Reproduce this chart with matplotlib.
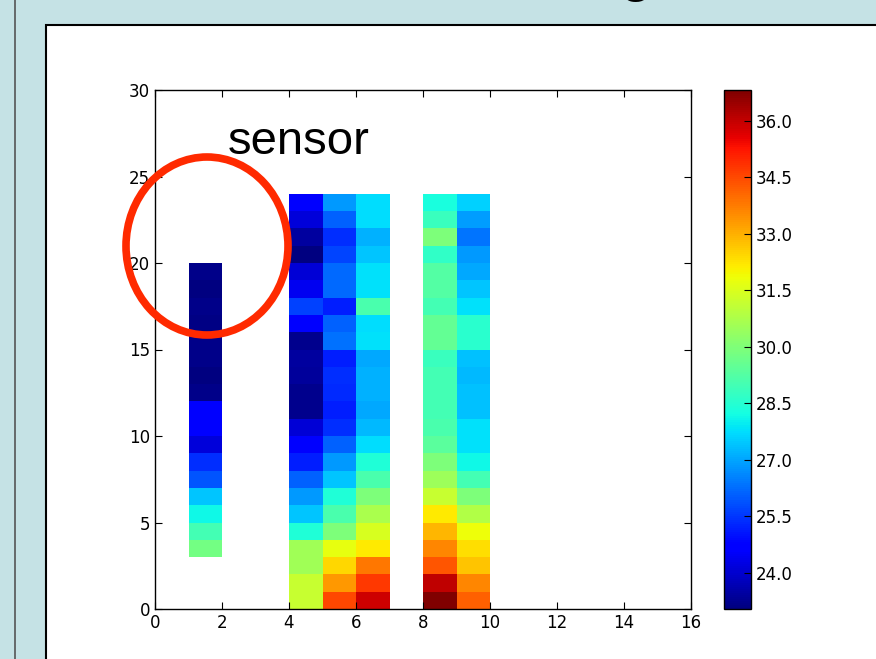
import numpy as np
import matplotlib
matplotlib.use('Agg')
import matplotlib.pyplot as plt
from matplotlib.patches import Rectangle, Ellipse

# temperature readings per sensor column, listed from row 0 upwards
col1_rows = list(range(3, 20))
col1 = [29.79, 28.97, 28.14, 27.45, 25.93, 25.38, 24.14, 24.56, 24.56,
        23.18, 23.04, 23.18, 23.18, 23.11, 23.18, 23.04, 23.18]

full_rows = list(range(0, 24))
col4 = [31.17, 31.17, 30.55, 30.55, 28.41, 27.45, 26.83, 26.07, 25.18, 24.56,
        24.07, 23.25, 23.25, 23.38, 23.45, 23.25, 24.56, 25.66, 24.42, 24.07,
        23.04, 23.45, 24.14, 24.56]
col5 = [34.53, 33.35, 32.41, 31.72, 29.93, 29.10, 28.41, 27.45, 26.83, 26.07,
        25.38, 25.18, 25.31, 25.38, 25.18, 26.28, 26.07, 25.18, 26.21, 26.21,
        25.73, 25.38, 26.07, 26.83]
col6 = [35.86, 34.75, 33.83, 32.19, 31.45, 30.69, 29.93, 29.10, 28.41, 27.73,
        27.24, 27.04, 27.17, 27.17, 27.04, 27.79, 27.73, 29.10, 27.79, 27.79,
        27.45, 27.17, 27.73, 27.73]
col8 = [36.82, 36.06, 34.34, 33.61, 32.91, 32.19, 31.17, 30.48, 29.93, 29.38,
        29.10, 28.97, 28.97, 28.97, 28.83, 29.52, 29.52, 28.97, 29.24, 29.24,
        28.69, 29.93, 28.83, 28.28]
col9 = [34.17, 33.61, 32.69, 32.30, 31.86, 30.83, 29.93, 28.97, 28.14, 27.79,
        27.79, 27.38, 27.38, 27.24, 27.38, 28.55, 28.55, 27.79, 27.45, 27.04,
        26.83, 26.35, 26.90, 27.59]

cbar_ticks = [24.0, 25.5, 27.0, 28.5, 30.0, 31.5, 33.0, 34.5, 36.0]

grid = np.full((30, 16), np.nan)
grid[col1_rows, 1] = col1
grid[full_rows, 4] = col4
grid[full_rows, 5] = col5
grid[full_rows, 6] = col6
grid[full_rows, 8] = col8
grid[full_rows, 9] = col9
data = np.ma.masked_invalid(grid)

W, H = 876, 659
fig = plt.figure(figsize=(W / 100, H / 100), dpi=100)
fig.patch.set_facecolor('#c5e2e5')

# white slide panel with black border
fig.patches.append(Rectangle((46 / W, -0.05), 1.0, (H - 25) / H + 0.05,
                             transform=fig.transFigure, facecolor='white',
                             edgecolor='black', linewidth=1.5, zorder=-5))
fig.lines.append(plt.Line2D([15 / W, 15 / W], [0, 1], transform=fig.transFigure,
                            color='#555555', linewidth=1.2, zorder=-5))

# cut-off title at the very top
fig.text(619 / W, 1 + 10 / H, 'g', fontsize=42, family='Liberation Sans',
         va='baseline', ha='left', color='black')

ax = fig.add_axes([155 / W, 50 / H, 536 / W, 519 / H])
mesh = ax.pcolormesh(np.arange(17), np.arange(31), data, cmap='jet',
                     vmin=min(col1 + col4 + col8), vmax=max(col8))
ax.set_xlim(0, 16)
ax.set_ylim(0, 30)
ax.set_xticks(range(0, 17, 2))
ax.set_yticks(range(0, 31, 5))
ax.tick_params(direction='in', top=True, right=True, length=5, labelsize=12)
for s in ax.spines.values():
    s.set_linewidth(1)

cax = fig.add_axes([724 / W, 50 / H, 27 / W, 519 / H])
cb = fig.colorbar(mesh, cax=cax, ticks=cbar_ticks, format='%.1f')
cb.ax.tick_params(direction='in', length=5, labelsize=12)
cb.outline.set_linewidth(1)

fig.text(228 / W, (H - 154) / H, 'sensor', fontsize=34, family='Liberation Sans',
         va='baseline', ha='left')

fig.patches.append(Ellipse((207 / W, (H - 246) / H), 162 / W, 178 / H,
                           transform=fig.transFigure, fill=False,
                           edgecolor='#ff2a00', linewidth=5.5, zorder=10))

fig.savefig('out.png', dpi=100, facecolor=fig.get_facecolor())
